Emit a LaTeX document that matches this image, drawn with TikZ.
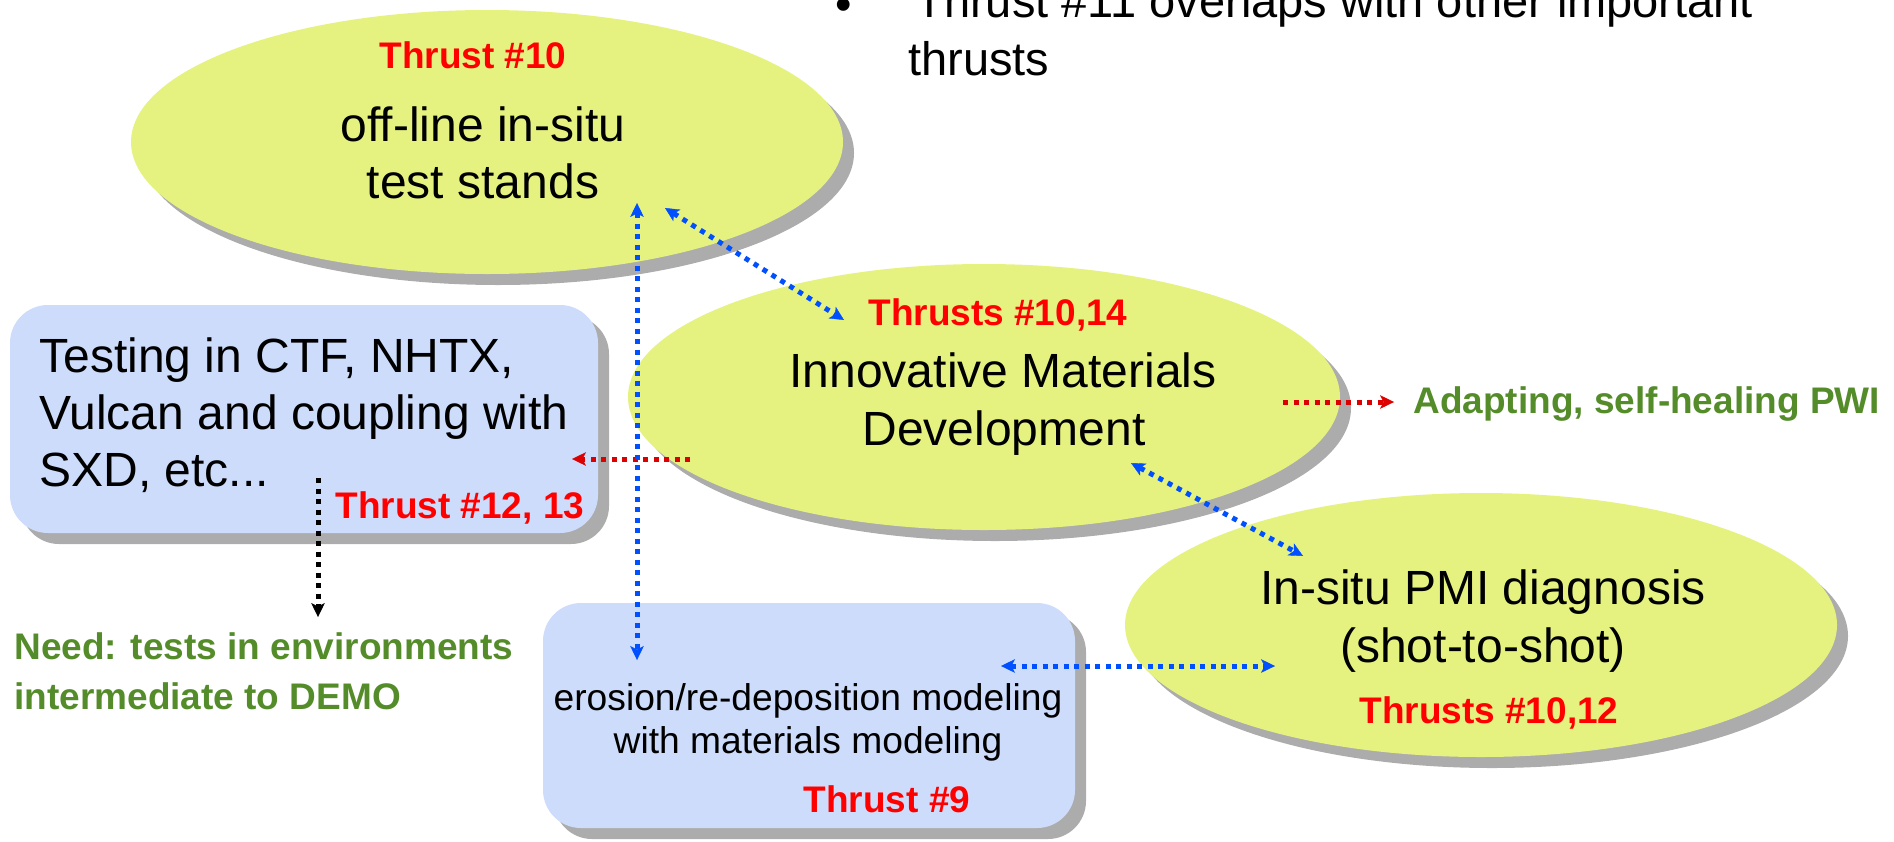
\documentclass[tikz,border=0pt]{standalone}
\usepackage{fontspec}
\setmainfont{Liberation Sans}
\usetikzlibrary{shapes.geometric,shadows,arrows.meta}
\definecolor{ellfill}{RGB}{230,242,128}
\definecolor{boxfill}{RGB}{204,220,250}
\definecolor{shadowgray}{RGB}{172,172,172}
\definecolor{thrustred}{RGB}{255,0,0}
\definecolor{needgreen}{RGB}{84,140,42}
\definecolor{arrowblue}{RGB}{0,80,255}
\definecolor{arrowred}{RGB}{220,0,0}
\begin{document}
\begin{tikzpicture}[x=0.5pt,y=-0.5pt,
  >={Stealth[length=7pt,width=6.8pt,inset=1.8pt,line width=0.2pt]},
  hardshadow/.style={general shadow={fill=shadowgray,draw=none,shadow xshift=5.5pt,shadow yshift=-5.5pt}},
  ell/.style={ellipse,fill=ellfill,draw=none,inner sep=0pt,minimum width=356pt,hardshadow},
  bluebox/.style={rectangle,rounded corners=19pt,fill=boxfill,draw=none,inner sep=0pt,hardshadow},
  bigtxt/.style={inner sep=0pt,anchor=base,font=\fontsize{24}{29}\selectfont},
  midtxt/.style={inner sep=0pt,anchor=base,font=\fontsize{18.6}{21}\selectfont},
  redlbl/.style={inner sep=0pt,anchor=base,text=thrustred,font=\fontsize{18.5}{22}\selectfont\bfseries},
  greenlbl/.style={inner sep=0pt,anchor=base west,text=needgreen,font=\fontsize{18.5}{22}\selectfont\bfseries},
  dotline/.style={line width=2.5pt,line cap=butt,dash pattern=on 2.5pt off 2.75pt},
  bluearrow/.style={dotline,draw=arrowblue,<->},
  redarrow/.style={dotline,draw=arrowred,->},
  blackarrow/.style={dotline,draw=black,->}
]
\useasboundingbox (0,0) rectangle (1894,841);

% top bullet text
\node[inner sep=0pt,anchor=base,font=\fontsize{23.5}{29}\selectfont] (bul) at (844,20) {•};
\node[inner sep=0pt,anchor=base west,font=\fontsize{23.5}{29}\selectfont] (t11a) at (915,17) {Thrust \#11 overlaps with other important};
\node[inner sep=0pt,anchor=base west,font=\fontsize{23.5}{29}\selectfont] (t11b) at (908,75) {thrusts};

% shapes
\node[ell,minimum height=132pt] (e3) at (1481,625) {};
\node[ell,minimum height=133pt] (e2) at (984,397) {};
\node[ell,minimum height=132pt] (e1) at (487,142) {};
\node[bluebox,minimum width=294pt,minimum height=114pt] (b1) at (304,419) {};
\node[bluebox,minimum width=266pt,minimum height=112.5pt] (b2) at (809,715.5) {};

% ellipse 1 text
\node[redlbl] (e1r) at (473,68) {Thrust \#10};
\node[bigtxt] (e1a) at (483,141) {off-line in-situ};
\node[bigtxt] (e1b) at (483,198) {test stands};

% ellipse 2 text
\node[redlbl] (e2r) at (998,325) {Thrusts \#10,14};
\node[bigtxt] (e2a) at (1003,387) {Innovative Materials};
\node[bigtxt] (e2b) at (1004,445) {Development};

% ellipse 3 text
\node[bigtxt] (e3a) at (1483,604) {In-situ PMI diagnosis};
\node[bigtxt] (e3b) at (1483,662) {(shot-to-shot)};
\node[redlbl] (e3r) at (1489,723) {Thrusts \#10,12};

% box 1 text
\node[bigtxt,anchor=base west] (b1a) at (39,372) {Testing in CTF, NHTX,};
\node[bigtxt,anchor=base west] (b1b) at (39,429) {Vulcan and coupling with};
\node[bigtxt,anchor=base west] (b1c) at (39,486) {SXD, etc...};
\node[redlbl,anchor=base west] (b1r) at (335,518) {Thrust \#12, 13};

% box 2 text
\node[midtxt] (b2a) at (808,710) {erosion/re-deposition modeling};
\node[midtxt] (b2b) at (808,753) {with materials modeling};
\node[redlbl] (b2r) at (887,812) {Thrust \#9};

% green notes
\node[greenlbl] (need1) at (14,659) {Need: tests in environments};
\node[greenlbl] (need2) at (14,709) {intermediate to DEMO};
\node[greenlbl] (adapt) at (1413,413) {Adapting, self-healing PWI};

% connector end points
\coordinate (v1) at (637,203);
\coordinate (v2) at (637,660);
\coordinate (d1a) at (665,208);
\coordinate (d1b) at (844,320);
\coordinate (d2a) at (1131,463);
\coordinate (d2b) at (1303,556);
\coordinate (h1) at (1001,666);
\coordinate (h2) at (1275,666);
\coordinate (r1a) at (690,459);
\coordinate (r1b) at (572,459);
\coordinate (r2a) at (1283,402);
\coordinate (r2b) at (1394,402);
\coordinate (k1) at (318,478);
\coordinate (k2) at (318,617);

% connectors
\draw[redarrow] (r1a) -- (r1b);
\draw[redarrow] (r2a) -- (r2b);
\draw[blackarrow] (k1) -- (k2);
\draw[bluearrow] (v1) -- (v2);
\draw[bluearrow] (d1a) -- (d1b);
\draw[bluearrow] (d2a) -- (d2b);
\draw[bluearrow] (h1) -- (h2);
\end{tikzpicture}
\end{document}
